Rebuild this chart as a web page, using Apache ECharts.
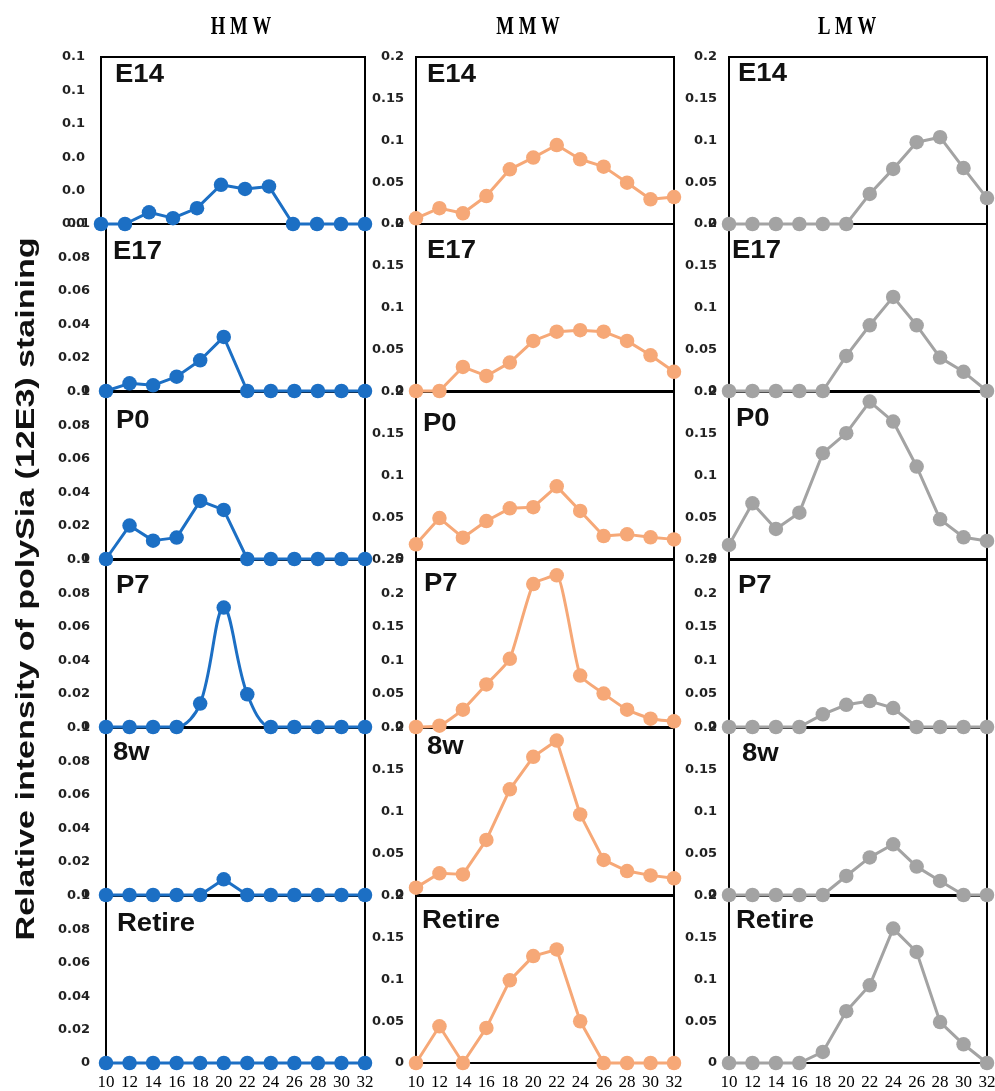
<!DOCTYPE html>
<html>
<head>
<meta charset="utf-8">
<script src="https://cdn.jsdelivr.net/npm/echarts@6/dist/echarts.min.js"></script>
<style>
html,body{margin:0;padding:0;background:#fff;}
#chart{width:995px;height:1091px;}
</style>
</head>
<body>
<div id="chart"></div>
<script>
// ---------------- DATA ----------------
const categories = [10, 12, 14, 16, 18, 20, 22, 24, 26, 28, 30, 32];
const stages = ['E14', 'E17', 'P0', 'P7', '8w', 'Retire'];
const columnNames = ['H M W', 'M M W', 'L M W'];
const yAxisTitle = 'Relative intensity of polySia (12E3) staining';

// HMW
const hmw_E14    = [0, 0, 0.007, 0.0035, 0.0095, 0.0235, 0.021, 0.0225, 0, 0, 0, 0];
const hmw_E17    = [0, 0.0046, 0.0034, 0.0086, 0.0184, 0.0324, 0, 0, 0, 0, 0, 0];
const hmw_P0     = [0, 0.02, 0.011, 0.0128, 0.0348, 0.0294, 0, 0, 0, 0, 0, 0];
const hmw_P7     = [0, 0, 0, 0, 0.014, 0.0715, 0.0196, 0, 0, 0, 0, 0];
const hmw_8w     = [0, 0, 0, 0, 0, 0.0094, 0, 0, 0, 0, 0, 0];
const hmw_Retire = [0, 0, 0, 0, 0, 0, 0, 0, 0, 0, 0, 0];
// MMW
const mmw_E14    = [0.0068, 0.019, 0.0128, 0.0335, 0.0655, 0.0795, 0.0946, 0.0775, 0.0687, 0.0495, 0.0296, 0.0323];
const mmw_E17    = [0, 0, 0.0288, 0.018, 0.034, 0.06, 0.071, 0.0728, 0.071, 0.06, 0.0428, 0.023];
const mmw_P0     = [0.0176, 0.049, 0.0255, 0.0455, 0.0607, 0.062, 0.087, 0.0575, 0.0275, 0.0295, 0.026, 0.0235];
const mmw_P7     = [0, 0.002, 0.026, 0.0637, 0.102, 0.214, 0.227, 0.077, 0.05, 0.026, 0.0124, 0.0085];
const mmw_8w     = [0.0088, 0.026, 0.0247, 0.066, 0.1265, 0.1655, 0.185, 0.0965, 0.042, 0.0287, 0.0235, 0.02];
const mmw_Retire = [0, 0.044, 0, 0.042, 0.099, 0.128, 0.136, 0.05, 0, 0, 0, 0];
// LMW
const lmw_E14    = [0, 0, 0, 0, 0, 0, 0.036, 0.066, 0.098, 0.104, 0.067, 0.031];
const lmw_E17    = [0, 0, 0, 0, 0, 0.042, 0.0787, 0.1127, 0.0787, 0.04, 0.023, 0];
const lmw_P0     = [0.0168, 0.0667, 0.036, 0.0555, 0.1267, 0.1507, 0.1886, 0.1646, 0.1107, 0.0475, 0.026, 0.0216];
const lmw_P7     = [0, 0, 0, 0, 0.019, 0.0333, 0.0388, 0.0284, 0, 0, 0, 0];
const lmw_8w     = [0, 0, 0, 0, 0, 0.0228, 0.045, 0.0607, 0.034, 0.0168, 0, 0];
const lmw_Retire = [0, 0, 0, 0, 0.0132, 0.062, 0.093, 0.161, 0.133, 0.049, 0.0224, 0];

// y-axis ranges (tick labels)
const hmwYMax = [0.1, 0.1, 0.1, 0.1, 0.1, 0.1];
const mmwYMax = [0.2, 0.2, 0.2, 0.25, 0.2, 0.2];
const lmwYMax = [0.2, 0.2, 0.2, 0.25, 0.2, 0.2];
const yIntervals = [0.02, 0.05, 0.05];

// ---------------- LAYOUT / STYLE ----------------
const colData = [
  [hmw_E14, hmw_E17, hmw_P0, hmw_P7, hmw_8w, hmw_Retire],
  [mmw_E14, mmw_E17, mmw_P0, mmw_P7, mmw_8w, mmw_Retire],
  [lmw_E14, lmw_E17, lmw_P0, lmw_P7, lmw_8w, lmw_Retire]
];
const colMax = [hmwYMax, mmwYMax, lmwYMax];
const colColors = ['#1c6fc4', '#f6a877', '#a3a3a3'];
const colLeft = [[101, 106, 106, 106, 106, 106], [416,416,416,416,416,416], [729,729,729,729,729,729]];
const colRight = [365, 674, 987];
const rowTop = [57, 224, 392, 560, 728, 896];
const rowH = 167;
const smoothCfg = [[0,0,0,0.35,0,0],[0,0,0,0.15,0,0],[0,0,0,0,0,0]];
const headerPos = [[241, 27], [528, 27], [847, 27]];
const stageLabelPos = [
  [[115, 75], [113, 252], [116, 421], [116, 586], [113, 753], [117, 924]],
  [[427, 75], [427, 251], [423, 424], [424, 584], [427, 747], [422, 921]],
  [[738, 74.5], [732, 251.5], [736, 419.5], [738, 586], [742, 754], [736, 921]]
];

const grids = [], xAxes = [], yAxes = [], series = [], graphics = [];
let idx = 0;
for (let c = 0; c < 3; c++) {
  for (let r = 0; r < 6; r++) {
    const left = colLeft[c][r];
    grids.push({
      left: left, top: rowTop[r], width: colRight[c] - left, height: rowH,
      show: true, borderColor: '#000', borderWidth: 2, backgroundColor: 'transparent',
      containLabel: false, outerBoundsMode: 'none'
    });
    const isBottom = r === 5;
    xAxes.push({
      gridIndex: idx, type: 'value', min: categories[0], max: categories[categories.length - 1], interval: 2,
      axisLine: {show: false}, axisTick: {show: false}, splitLine: {show: false},
      axisLabel: {
        show: isBottom, margin: 11, color: '#000', fontFamily: 'Liberation Serif', fontSize: 17
      }
    });
    const fmt = (c === 0 && r === 0) ? (v => v.toFixed(1)) : undefined;
    yAxes.push({
      gridIndex: idx, type: 'value', min: 0, max: colMax[c][r], interval: yIntervals[c],
      axisLine: {show: false}, axisTick: {show: false}, splitLine: {show: false},
      axisLabel: {
        margin: c === 0 ? 16 : 12, color: '#222', fontFamily: 'DejaVu Sans', fontWeight: 'bold', fontSize: 13,
        formatter: fmt, showMinLabel: true, showMaxLabel: true
      }
    });
    series.push({
      type: 'line', xAxisIndex: idx, yAxisIndex: idx,
      data: categories.map((x, i) => [x, colData[c][r][i]]),
      smooth: smoothCfg[c][r] || false,
      symbol: 'circle', symbolSize: 14.5, clip: false,
      lineStyle: {color: colColors[c], width: 3},
      itemStyle: {color: colColors[c]},
      z: 3
    });
    graphics.push({
      type: 'text', x: stageLabelPos[c][r][0], y: stageLabelPos[c][r][1], scaleX: 1.1, z: 10,
      style: {text: stages[r], fontFamily: 'Liberation Sans', fontWeight: 'bold', fontSize: 25,
              fill: '#111', align: 'left', verticalAlign: 'middle'}
    });
    idx++;
  }
  graphics.push({
    type: 'text', x: headerPos[c][0], y: headerPos[c][1], scaleX: 0.72, z: 10,
    style: {text: columnNames[c], fontFamily: 'Liberation Serif', fontWeight: 'bold', fontSize: 26,
            fill: '#000', align: 'center', verticalAlign: 'middle'}
  });
}
graphics.push({
  type: 'text', x: 27, y: 589, rotation: Math.PI / 2, scaleX: 1.36, z: 10,
  style: {text: yAxisTitle, fontFamily: 'Liberation Sans', fontWeight: 'bold', fontSize: 25,
          fill: '#111', align: 'center', verticalAlign: 'middle'}
});

const chart = echarts.init(document.getElementById('chart'), null, {renderer: 'canvas'});
chart.setOption({
  animation: false,
  backgroundColor: '#fff',
  grid: grids, xAxis: xAxes, yAxis: yAxes, series: series,
  graphic: graphics
});
</script>
</body>
</html>
